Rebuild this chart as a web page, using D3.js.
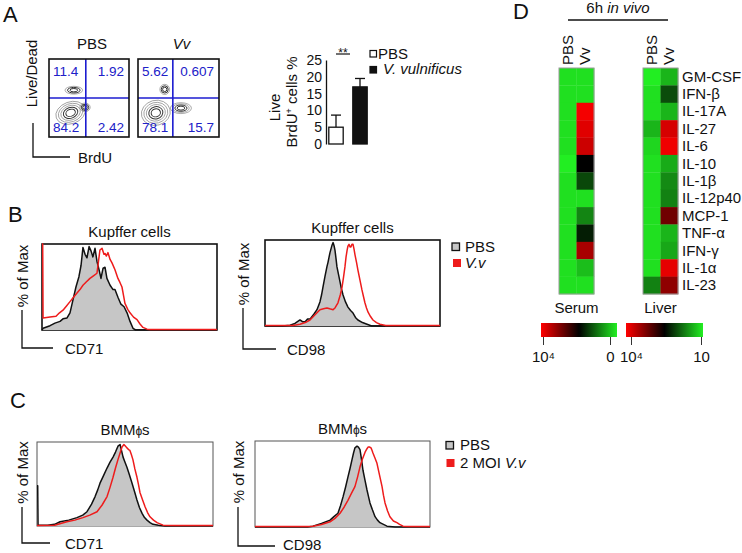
<!DOCTYPE html>
<html><head><meta charset="utf-8">
<script src="https://cdn.jsdelivr.net/npm/d3@7"></script>
<style>body{margin:0;background:#fff}svg{display:block;font-family:"Liberation Sans",Arial,Helvetica,sans-serif}</style>
</head><body><svg id="c" width="742" height="553"></svg>
<script>
// ---------- DATA ----------
// Panel A flow plots: quadrant percentages [UL, UR, LL, LR]
const flowGroups = ["PBS", "Vv"];
const quadPBS = ["11.4", "1.92", "84.2", "2.42"];
const quadVv = ["5.62", "0.607", "78.1", "15.7"];
const gateX = [0.46, 0.43];          // BrdU gate (normalised log fluorescence)
const gateY = [0.50, 0.50];          // Live/Dead gate
// contour populations: [cx, cy, rx, ry, angle, levels]
const pbsClusters = [[0.27, 0.31, 0.19, 0.14, -20, 5], [0.45, 0.38, 0.065, 0.055, 0, 3], [0.31, 0.60, 0.11, 0.05, 0, 3]];
const vvClusters = [[0.22, 0.31, 0.18, 0.16, -15, 5], [0.53, 0.37, 0.13, 0.07, 0, 4], [0.33, 0.61, 0.06, 0.065, 0, 3]];

// Panel A bar chart
const barGroups = ["PBS", "V. vulnificus"];
const barMeans = [5.0, 17.0];
const barErrors = [3.6, 2.5];
const barTicks = [0, 5, 10, 15, 20, 25];

// Panel B/C histograms: [channel (0-1000), % of max]
const b1PBS = [[0,0],[6,2],[46,5],[74,8],[103,10],[120,13],[143,14],[160,20],[177,35],[194,50],[211,62],[223,75],[234,96],[246,88],[257,84],[269,97],[280,92],[291,85],[303,95],[314,80],[326,70],[337,60],[349,72],[360,73],[371,60],[389,52],[406,47],[417,47],[434,38],[451,30],[469,27],[486,20],[503,10],[520,2],[535,0],[1000,0]];
const b1Vv = [[0,100],[4,100],[6,14],[46,15],[80,16],[100,20],[120,23],[140,28],[160,33],[180,38],[200,43],[217,47],[234,52],[254,56],[274,60],[294,63],[314,66],[323,80],[331,93],[343,95],[354,88],[360,89],[368,86],[377,90],[389,82],[400,78],[417,70],[434,60],[446,55],[457,50],[466,40],[474,31],[490,24],[503,20],[523,15],[543,12],[560,7],[577,3],[600,1],[617,0.5],[1000,0.5]];
const b2PBS = [[0,0],[100,0],[143,1],[171,3],[200,7],[214,5],[229,5],[243,8],[257,8],[280,14],[297,19],[314,28],[323,36],[331,45],[343,58],[354,69],[360,74],[366,80],[371,85],[383,94],[389,97],[395,93],[400,88],[406,78],[411,69],[420,60],[429,51],[437,43],[446,36],[460,28],[474,22],[489,18],[503,15],[517,10],[531,7],[557,4],[583,2],[610,0],[1000,0]];
const b2Vv = [[0,0.5],[160,0.5],[200,2],[230,4],[257,7],[290,14],[314,19],[334,20],[354,21],[370,20],[389,19],[400,21],[417,27],[430,36],[440,45],[449,57],[457,69],[463,80],[469,88],[474,93],[480,95],[486,92],[491,92],[497,95],[503,95],[509,89],[514,83],[523,74],[531,65],[543,53],[554,42],[563,34],[571,27],[580,21],[589,16],[603,11],[617,7],[637,4],[657,2],[690,0.5],[1000,0.5]];
const c1PBS = [[0,48],[4,48],[6,1],[60,1],[100,2],[131,5],[180,7],[227,10],[260,13],[284,17],[310,26],[330,35],[345,43],[358,51],[378,60],[398,69],[415,76],[432,82],[446,88],[460,95],[472,97],[480,90],[489,82],[500,76],[511,70],[525,61],[540,51],[554,41],[568,31],[582,22],[597,15],[611,10],[625,7],[642,4],[659,2],[690,1],[727,0],[1000,0]];
const c1Vv = [[0,0.5],[100,1],[170,5],[215,7],[261,10],[300,13],[341,17],[370,25],[398,35],[415,46],[432,58],[446,69],[460,79],[472,87],[483,94],[494,97],[503,95],[511,93],[520,91],[528,90],[536,85],[545,79],[556,68],[568,58],[577,49],[585,40],[600,31],[614,23],[628,16],[642,11],[662,7],[682,4],[716,1],[784,0.5],[1000,0.5]];
const c2PBS = [[0,0],[300,0],[331,1],[380,4],[429,8],[451,12],[474,16],[489,25],[503,35],[517,46],[531,58],[543,68],[554,78],[563,86],[571,92],[583,94],[591,93],[600,90],[609,78],[617,66],[629,54],[640,43],[649,35],[657,28],[671,20],[686,12],[700,8],[714,5],[734,3],[754,1],[800,0],[1000,0]];
const c2Vv = [[0,0.5],[300,0.5],[331,1],[380,3],[429,6],[457,10],[486,16],[509,23],[531,31],[551,39],[571,47],[586,58],[600,70],[614,79],[629,87],[640,91],[646,93],[654,93],[663,92],[669,89],[674,86],[686,80],[697,74],[711,61],[726,47],[734,37],[743,28],[757,19],[771,12],[791,7],[811,5],[826,3],[846,1],[886,0.5],[1000,0.5]];

// Panel D heatmap: position on colour bar (0 = 10^4 red, 0.5 = black, 1 = low green)
const cytokines = ["GM-CSF","IFN-β","IL-17A","IL-27","IL-6","IL-10","IL-1β","IL-12p40","MCP-1","TNF-α","IFN-γ","IL-1α","IL-23"];
const heatCols = ["PBS", "Vv"];
const serumPBS = [0.97,0.97,0.97,0.97,0.97,1.0,0.97,0.97,0.97,0.97,0.97,0.97,0.97];
const serumVv  = [0.97,0.97,0.02,0.06,0.10,0.50,0.65,0.97,0.78,0.56,0.17,0.90,0.97];
const liverPBS = [1.0,0.97,0.97,0.88,0.95,0.97,0.97,0.97,0.97,0.97,0.97,0.97,0.77];
const liverVv  = [0.88,0.66,0.88,0.08,0.03,0.86,0.79,0.77,0.28,0.88,0.85,0.05,0.22];
const serumScaleLabels = ["10⁴", "0"];
const liverScaleLabels = ["10⁴", "10"];

// ---------- DRAW ----------
const svg = d3.select("#c");
svg.append("rect").attr("width", 742).attr("height", 553).attr("fill", "#fff");
const FS = 15;
const RED = "#ee1c1c";

function txt(x, y, s, o = {}) {
  const t = svg.append("text").attr("x", x).attr("y", y).attr("font-size", o.size || FS)
    .attr("fill", o.fill || "#111").attr("text-anchor", o.anchor || "start").text(s);
  if (o.italic) t.attr("font-style", "italic");
  if (o.rot) t.attr("transform", `rotate(-90,${x},${y})`);
  return t;
}
function lshape(xv, yTop, yCorner, xEnd) {
  svg.append("path").attr("d", `M${xv},${yTop}V${yCorner}H${xEnd}`).attr("fill", "none").attr("stroke", "#111").attr("stroke-width", 1.3);
}

// Panel letters
txt(3, 22, "A", {size: 22}); txt(8, 222, "B", {size: 22}); txt(10, 408, "C", {size: 22}); txt(513, 19, "D", {size: 22});

// ---- Panel A flow plots ----
function drawFlow(x0, y0, w, h, quad, clusters, gx, gy, title, italic) {
  const xs = d3.scaleLinear([0, 1], [x0, x0 + w]);
  const ys = d3.scaleLinear([0, 1], [y0 + h, y0]);
  txt(x0 + w / 2 + 3, y0 - 10, title, {anchor: "middle", italic});
  const g = svg.append("g");
  clusters.forEach(c => {
    const [cx, cy, rx, ry, ang, n] = c;
    d3.range(n).forEach(i => {
      const k = 1 - i / n * 0.85;
      g.append("ellipse").attr("cx", xs(cx)).attr("cy", ys(cy))
        .attr("rx", Math.abs(xs(rx) - xs(0)) * k).attr("ry", Math.abs(ys(0) - ys(ry)) * k)
        .attr("transform", `rotate(${ang},${xs(cx)},${ys(cy)})`)
        .attr("fill", "none").attr("stroke", i >= n - 2 ? "#333" : "#888").attr("stroke-width", i >= n - 2 ? 1 : 0.7);
    });
  });
  g.append("line").attr("x1", xs(gx)).attr("x2", xs(gx)).attr("y1", ys(0)).attr("y2", ys(1)).attr("stroke", "#1c1cd0").attr("stroke-width", 1.6);
  g.append("line").attr("x1", xs(0)).attr("x2", xs(1)).attr("y1", ys(gy)).attr("y2", ys(gy)).attr("stroke", "#1c1cd0").attr("stroke-width", 1.6);
  g.append("rect").attr("x", x0).attr("y", y0).attr("width", w).attr("height", h).attr("fill", "none").attr("stroke", "#111").attr("stroke-width", 1.6);
  const o = {size: 13.5, fill: "#2020c8"};
  txt(x0 + 4, y0 + 17, quad[0], o);
  txt(x0 + w - 5, y0 + 17, quad[1], {...o, anchor: "end"});
  txt(x0 + 4, y0 + h - 5, quad[2], o);
  txt(x0 + w - 5, y0 + h - 5, quad[3], {...o, anchor: "end"});
}
drawFlow(49, 59, 80, 78, quadPBS, pbsClusters, gateX[0], gateY[0], flowGroups[0], false);
drawFlow(138, 59, 81, 78, quadVv, vvClusters, gateX[1], gateY[1], flowGroups[1], true);
txt(37, 73.5, "Live/Dead", {anchor: "middle", rot: true});
lshape(33, 123, 157, 70);
txt(78, 163, "BrdU");

// ---- Panel A bar chart ----
const yb = d3.scaleLinear([0, 25], [144, 60]);
const xb = d3.scaleBand().domain(barGroups).range([324, 372]).paddingInner(0.4).paddingOuter(0.2);
const ax = svg.append("g").attr("transform", "translate(326,0)").call(d3.axisLeft(yb).tickValues(barTicks).tickSize(0).tickPadding(4));
ax.selectAll("text").attr("font-size", 14).attr("font-family", "Liberation Sans, Arial, sans-serif").attr("fill", "#111");
ax.select(".domain").attr("stroke", "#111").attr("stroke-width", 1.3);
barGroups.forEach((gname, i) => {
  const x = xb(gname), w = xb.bandwidth();
  svg.append("line").attr("x1", x + w / 2).attr("x2", x + w / 2).attr("y1", yb(barMeans[i])).attr("y2", yb(barMeans[i] + barErrors[i])).attr("stroke", "#111").attr("stroke-width", 1.3);
  svg.append("line").attr("x1", x + w / 2 - 5).attr("x2", x + w / 2 + 5).attr("y1", yb(barMeans[i] + barErrors[i])).attr("y2", yb(barMeans[i] + barErrors[i])).attr("stroke", "#111").attr("stroke-width", 1.3);
  svg.append("rect").attr("x", x).attr("y", yb(barMeans[i])).attr("width", w).attr("height", yb(0) - yb(barMeans[i]))
    .attr("fill", i === 0 ? "#fff" : "#111").attr("stroke", "#111").attr("stroke-width", 1.3);
});
svg.append("line").attr("x1", 336).attr("x2", 350).attr("y1", 54).attr("y2", 54).attr("stroke", "#111").attr("stroke-width", 1.2);
txt(343, 57, "**", {size: 12, anchor: "middle"});
txt(280, 107.5, "Live", {anchor: "middle", rot: true});
const bl = txt(297, 102, "BrdU", {anchor: "middle", rot: true});
bl.append("tspan").attr("font-size", 9).attr("dy", -5).text("+");
bl.append("tspan").attr("dy", 5).text(" cells %");
// legend
svg.append("rect").attr("x", 370).attr("y", 50.5).attr("width", 6.5).attr("height", 6.5).attr("fill", "#fff").attr("stroke", "#111").attr("stroke-width", 1.2);
svg.append("rect").attr("x", 370).attr("y", 66.5).attr("width", 6.5).attr("height", 6.5).attr("fill", "#111").attr("stroke", "#111").attr("stroke-width", 1.2);
txt(378, 59, barGroups[0]);
txt(383, 74, barGroups[1], {italic: true});

// ---- Histograms ----
function drawHist(x0, y0, w, h, pbs, vv, title, boxStroke, boxW) {
  const xs = d3.scaleLinear([0, 1000], [x0, x0 + w]);
  const ys = d3.scaleLinear([0, 100], [y0 + h, y0]);
  txt(x0 + w / 2, y0 - 7.5, title.main, {anchor: "middle"}).call(t => {
    if (title.sym) { t.append("tspan").attr("font-size", 12).text(title.sym); t.append("tspan").text(title.end); }
  });
  svg.append("rect").attr("x", x0).attr("y", y0).attr("width", w).attr("height", h).attr("fill", "#fff").attr("stroke", boxStroke).attr("stroke-width", boxW);
  const area = d3.area().x(d => xs(d[0])).y0(ys(0)).y1(d => ys(d[1]));
  const line = d3.line().x(d => xs(d[0])).y(d => ys(d[1]));
  svg.append("path").attr("d", area(pbs)).attr("fill", "#c6c6c6");
  svg.append("path").attr("d", line(pbs)).attr("fill", "none").attr("stroke", "#111").attr("stroke-width", 1.5).attr("stroke-linejoin", "round");
  svg.append("path").attr("d", line(vv)).attr("fill", "none").attr("stroke", RED).attr("stroke-width", 1.5).attr("stroke-linejoin", "round");
}
drawHist(42, 244, 175, 86, b1PBS, b1Vv, {main: "Kupffer cells"}, "#111", 1.6);
drawHist(265, 240, 175, 86, b2PBS, b2Vv, {main: "Kupffer cells"}, "#111", 1.6);
drawHist(37, 442, 176, 84, c1PBS, c1Vv, {main: "BMM", sym: "ϕ", end: "s"}, "#555", 1);
drawHist(255, 441, 175, 86, c2PBS, c2Vv, {main: "BMM", sym: "ϕ", end: "s"}, "#555", 1);

// axis L-shapes & labels
txt(28, 276, "% of Max", {anchor: "middle", rot: true}); lshape(22, 310, 348, 53); txt(65, 353.5, "CD71");
txt(249, 274, "% of Max", {anchor: "middle", rot: true}); lshape(243, 308, 349, 276); txt(287, 354.5, "CD98");
txt(27.5, 472.5, "% of Max", {anchor: "middle", rot: true}); lshape(22, 507, 543, 50); txt(65, 548.5, "CD71");
txt(244, 472, "% of Max", {anchor: "middle", rot: true}); lshape(238, 507, 546, 275); txt(283, 549.5, "CD98");

// legends
svg.append("rect").attr("x", 452).attr("y", 243).attr("width", 7.5).attr("height", 7.5).attr("fill", "#c6c6c6").attr("stroke", "#111").attr("stroke-width", 1.3);
svg.append("rect").attr("x", 453).attr("y", 259).attr("width", 8).attr("height", 8).attr("fill", RED);
txt(465, 251.5, "PBS"); txt(465, 267.5, "V.v", {italic: true});
svg.append("rect").attr("x", 446).attr("y", 441.5).attr("width", 7.5).attr("height", 7.5).attr("fill", "#c6c6c6").attr("stroke", "#111").attr("stroke-width", 1.3);
svg.append("rect").attr("x", 446.5).attr("y", 459).attr("width", 8).attr("height", 8).attr("fill", RED);
txt(460, 450, "PBS");
const cl2 = txt(460, 467.5, "2 MOI ");
cl2.append("tspan").attr("font-style", "italic").text("V.v");

// ---- Panel D heatmap ----
const heatColor = d3.scaleLinear().domain([0, 0.5, 1]).range(["#ff0000", "#000000", "#22ee22"]);
const yh = d3.scaleBand().domain(cytokines).range([68, 294]);
function drawHeat(x0, x1, colVals, name) {
  const xh = d3.scaleBand().domain(heatCols).range([x0, x1]);
  heatCols.forEach((c, j) => {
    svg.append("g").selectAll("rect").data(cytokines).join("rect")
      .attr("x", xh(c)).attr("y", d => yh(d)).attr("width", xh.bandwidth() + 0.3).attr("height", yh.bandwidth() + 0.3)
      .attr("fill", (d, i) => heatColor(colVals[j][i]));
    txt(xh(c) + xh.bandwidth() / 2 + 5, 65, c, {rot: true});
  });
  svg.append("rect").attr("x", x0).attr("y", 68).attr("width", x1 - x0).attr("height", 226).attr("fill", "none").attr("stroke", "#9a9a9a").attr("stroke-width", 1);
  txt((x0 + x1) / 2, 313, name, {anchor: "middle"});
}
drawHeat(559, 594, [serumPBS, serumVv], "Serum");
drawHeat(643, 678, [liverPBS, liverVv], "Liver");
cytokines.forEach(c => txt(682, yh(c) + yh.bandwidth() / 2 + 5, c));
// title
const tt = txt(618, 13, "6h ", {anchor: "middle"});
tt.append("tspan").attr("font-style", "italic").text("in vivo");
svg.append("line").attr("x1", 568).attr("x2", 668).attr("y1", 20).attr("y2", 20).attr("stroke", "#111").attr("stroke-width", 1.3);

// colour bars
const defs = svg.append("defs");
const grad = defs.append("linearGradient").attr("id", "hg");
[0, 0.5, 1].forEach(o => grad.append("stop").attr("offset", o).attr("stop-color", heatColor(o)));
function drawBar(x0, x1, tx0, tx1, labels) {
  svg.append("rect").attr("x", x0).attr("y", 323).attr("width", x1 - x0).attr("height", 14).attr("fill", "url(#hg)");
  const s = d3.scaleLinear([0, 1], [tx0, tx1]);
  const a = svg.append("g").attr("transform", "translate(0,337)")
    .call(d3.axisBottom(s).tickValues([0, 1]).tickSize(8).tickPadding(6).tickFormat((d, i) => labels[i]));
  a.select(".domain").remove();
  a.selectAll("line").attr("stroke", "#333");
  a.selectAll("text").attr("font-size", FS).attr("font-family", "Liberation Sans, Arial, sans-serif").attr("fill", "#111");
}
drawBar(541, 617, 543, 610, serumScaleLabels);
drawBar(626, 703, 631, 701, liverScaleLabels);
</script></body></html>
